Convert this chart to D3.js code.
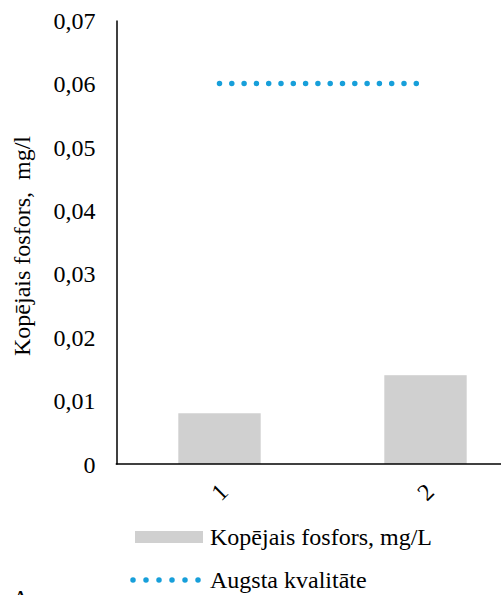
<!DOCTYPE html>
<html>
<head>
<meta charset="utf-8">
<script src="https://cdn.jsdelivr.net/npm/d3@7"></script>
</head>
<body style="margin:0">
<svg id="chart" width="501" height="595"></svg>
<script>
// Total phosphorus per sampling point, with the "high quality" threshold
const categories = ["1", "2"];
const phosphorus = [0.008, 0.014];
const highQuality = [0.06, 0.06];
const yTicks = [0, 0.01, 0.02, 0.03, 0.04, 0.05, 0.06, 0.07];
const yTitle = "Kopējais fosfors,\u00a0 mg/l";
const legendLabels = ["Kopējais fosfors, mg/L", "Augsta kvalitāte"];

const barColor = "#d0d0d0";
const lineColor = "#179fda";

const svg = d3.select("#chart")
  .attr("font-family", "Liberation Serif")
  .attr("font-size", 24);

const x0 = 116.5, yTop = 20, yBottom = 464;

const y = d3.scaleLinear().domain([0, 0.07]).range([yBottom, yTop]);
const x = d3.scaleBand().domain(categories).range([x0, x0 + 412])
  .paddingInner(0.6).paddingOuter(0.3);

const fmt = v => d3.format(".2f")(v).replace(".", ",").replace(/^0,00$/, "0");

// Bars
svg.append("g").selectAll("rect")
  .data(phosphorus)
  .join("rect")
  .attr("x", (d, i) => x(categories[i]))
  .attr("y", d => y(d))
  .attr("width", x.bandwidth())
  .attr("height", d => y(0) - y(d))
  .attr("fill", barColor);

// Threshold line (round dots)
const line = d3.line()
  .x((d, i) => x(categories[i]) + x.bandwidth() / 2)
  .y(d => y(d));
svg.append("path")
  .datum(highQuality)
  .attr("d", line)
  .attr("fill", "none")
  .attr("stroke", lineColor)
  .attr("stroke-width", 5.5)
  .attr("stroke-linecap", "round")
  .attr("stroke-dasharray", "0 12.3");

// Y axis
const yAxis = d3.axisLeft(y).tickValues(yTicks).tickFormat(fmt).tickSize(0).tickPadding(21);
const gy = svg.append("g").attr("transform", `translate(${x0},0)`).call(yAxis);
gy.attr("font-family", "Liberation Serif").attr("font-size", 24);
gy.select(".domain").attr("stroke", "#000").attr("stroke-width", 1.5);
gy.selectAll("text").attr("fill", "#000").attr("dy", "0.34em");

// X axis
svg.append("line")
  .attr("x1", x0 - 0.75).attr("x2", 501)
  .attr("y1", yBottom).attr("y2", yBottom)
  .attr("stroke", "#000").attr("stroke-width", 1.7);

svg.append("g").selectAll("text")
  .data(categories)
  .join("text")
  .attr("transform", d => `translate(${x(d) + x.bandwidth() / 2},492) rotate(-45)`)
  .attr("text-anchor", "middle")
  .attr("dominant-baseline", "central")
  .attr("fill", "#000")
  .text(d => d);

// Y axis title
svg.append("text")
  .attr("transform", "translate(30,246) rotate(-90)")
  .attr("text-anchor", "middle")
  .attr("fill", "#000")
  .text(yTitle);

// Legend
const lg = svg.append("g");
lg.append("rect")
  .attr("x", 135).attr("y", 531).attr("width", 68).attr("height", 12)
  .attr("fill", barColor);
lg.append("text").attr("x", 210).attr("y", 545).attr("fill", "#000").text(legendLabels[0]);
lg.append("line")
  .attr("x1", 133).attr("x2", 199).attr("y1", 580).attr("y2", 580)
  .attr("stroke", lineColor).attr("stroke-width", 5.5)
  .attr("stroke-linecap", "round").attr("stroke-dasharray", "0 13");
lg.append("text").attr("x", 210).attr("y", 588).attr("fill", "#000").text(legendLabels[1]);

// Partially visible caption below the chart
svg.append("text").attr("x", 12).attr("y", 606).attr("fill", "#000").text("A");
</script>
</body>
</html>
